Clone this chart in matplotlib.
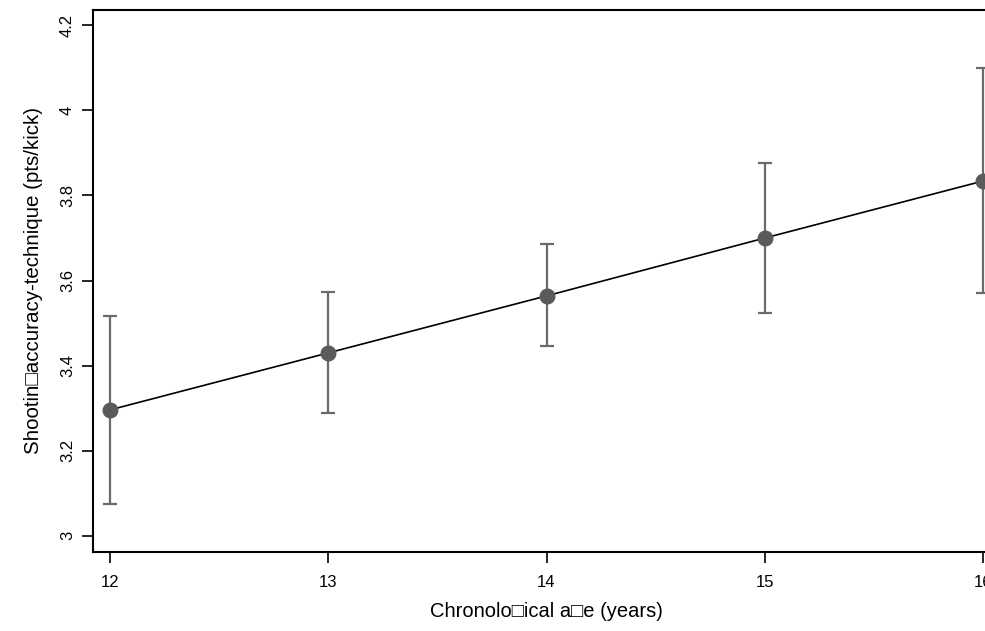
import matplotlib
matplotlib.use("Agg")
import matplotlib.pyplot as plt

plt.rcParams['font.family'] = ['Liberation Sans', 'DejaVu Sans']

ages = [12, 13, 14, 15, 16]
means = [3.296, 3.430, 3.564, 3.700, 3.834]
lower = [3.075, 3.288, 3.446, 3.524, 3.570]
upper = [3.516, 3.573, 3.687, 3.876, 4.099]
yticks = [3, 3.2, 3.4, 3.6, 3.8, 4, 4.2]
yticklabels = ["3", "3.2", "3.4", "3.6", "3.8", "4", "4.2"]

W, H = 985, 631
fig = plt.figure(figsize=(W / 100, H / 100), dpi=100)
left, right, top, bottom = 93, 1000, 10, 552
ax = fig.add_axes([left / W, 1 - bottom / H, (right - left) / W, (bottom - top) / H])

err = [[m - l for m, l in zip(means, lower)], [u - m for m, u in zip(means, upper)]]
ax.errorbar(ages, means, yerr=err, fmt='none', ecolor='#6b6b6b', elinewidth=1.6,
            capsize=4.8, capthick=1.6, zorder=2)
ax.plot(ages, means, color='black', lw=1.2, zorder=3)
ax.plot(ages, means, 'o', color='#5a5a5a', markersize=10.5, zorder=4)

ax.set_xlim(11.922, 16.078)
ax.set_ylim(2.962, 4.236)
ax.set_xticks(ages)
ax.set_xticklabels([str(a) for a in ages], fontsize=12)
ax.set_yticks(yticks)
ax.set_yticklabels(yticklabels, fontsize=12, rotation=90, va='center')
ax.tick_params(direction='out', length=8, width=1.2)
ax.tick_params(axis='x', pad=8.5)
ax.tick_params(axis='y', pad=5)
for s in ['left', 'bottom', 'top']:
    ax.spines[s].set_linewidth(1.5)
ax.spines['right'].set_visible(False)

ax.set_xlabel("Chronolo\u25a1ical a\u25a1e (years)", fontsize=14.5, labelpad=9)
ax.set_ylabel("Shootin\u25a1accuracy-technique (pts/kick)", fontsize=14.8, labelpad=12)

fig.savefig("out.png", dpi=100)
